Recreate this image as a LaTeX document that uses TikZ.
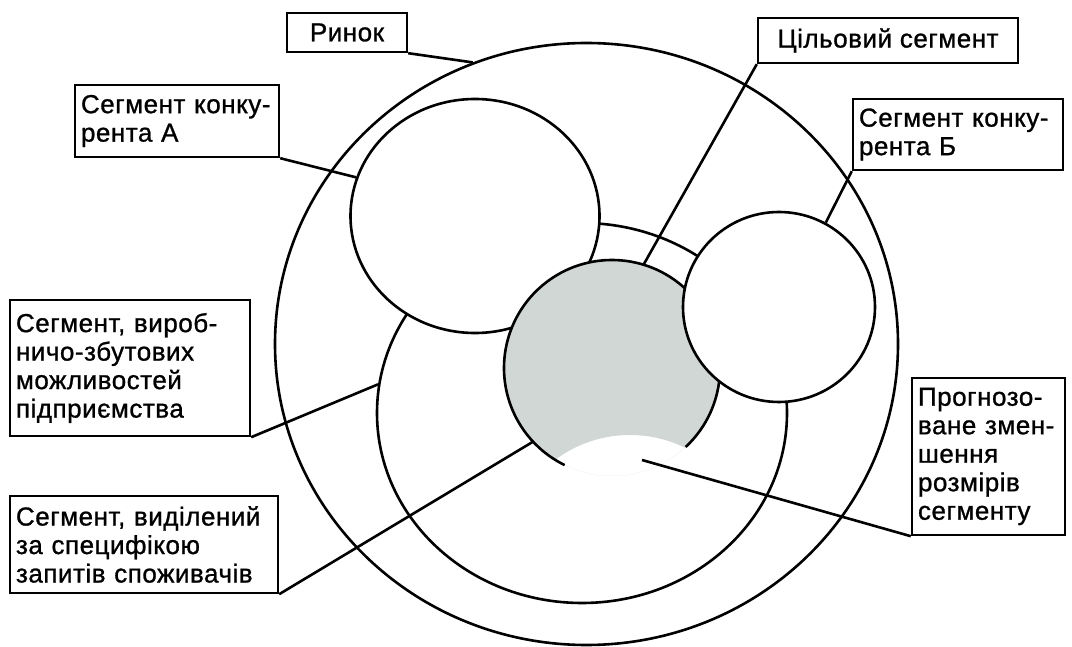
\documentclass[tikz,border=0pt]{standalone}
\usepackage{fontspec}
\setmainfont{Liberation Sans}
\newfontfamily\segfont[LetterSpace=2,FakeBold=1]{Liberation Sans}
\usetikzlibrary{shapes.geometric}
\definecolor{targetgrey}{RGB}{209,215,213}
\tikzset{
  segbox/.style={draw, line width=2.4pt, align=left, inner xsep=6pt, inner ysep=0pt,
    font=\segfont\fontsize{26}{28.5}\selectfont},
  segoval/.style={draw, ellipse, line width=2.6pt, inner sep=0pt},
  leader/.style={line width=2.6pt}
}

\begin{document}
\begin{tikzpicture}[x=1pt,y=1pt]
  \useasboundingbox (0,0) rectangle (1072,646);
  % market and the segments inside it
  \node[segoval, minimum width=623pt, minimum height=602pt] (market) at (586.5,302) {};
  \node[segoval, minimum width=410pt, minimum height=380pt] (prodov) at (582,233) {};
  \node[segoval, fill=white, minimum width=249pt, minimum height=234pt] (compA) at (475,430) {};
  % target segment, bottom part cut away
  \node[circle, minimum size=216pt, inner sep=0pt] (tgt) at (612,278) {};
  \begin{scope}
    \clip (tgt.center) circle[radius=108];
    \fill[targetgrey, even odd rule] (tgt.center) circle[radius=108] (630,86) circle[radius=125];
  \end{scope}
  \draw[leader] (tgt.center) ++(-47:108) arc[start angle=-47, end angle=244, radius=108];
  \node[segoval, fill=white, minimum width=192pt, minimum height=190pt] (compB) at (779,339) {};
  % labels
  \node[segbox, align=center, minimum width=120pt, minimum height=39pt] (rinok) at (347,613.5) {Ринок};
  \node[segbox, text width=192pt, minimum height=72pt] (segA) at (177,525) {Сегмент конку-\\рента А};
  \node[segbox, align=center, minimum width=260pt, minimum height=45pt] (target) at (888,605.5) {Цільовий сегмент};
  \node[segbox, text width=198pt, minimum height=71pt] (segB) at (958,511.5) {Сегмент конку-\\рента Б};
  \node[segbox, text width=228pt, minimum height=136pt] (prod) at (130,278) {Сегмент, вироб-\\ничо-збутових\\можливостей\\підприємства};
  \node[segbox, text width=256pt, minimum height=97pt] (cons) at (144,101.5) {Сегмент, виділений\\за специфікою\\запитів споживачів};
  \node[segbox, text width=141pt, minimum height=157pt] (forecast) at (988.5,189.5) {Прогнозо-\\ване змен-\\шення\\розмірів\\сегменту};
  \coordinate (shrink) at (642,186);
  % leaders
  \draw[leader] (rinok.south east) -- (market.112.4);
  \draw[leader] (segA.south east) -- (compA.162);
  \draw[leader] (target.south west) -- (tgt.73.7);
  \draw[leader] (segB.south west) -- (compB.61.2);
  \draw[leader] (prod.south east) -- (prodov.172.8);
  \draw[leader] (cons.south east) -- (tgt.223.5);
  \draw[leader] (forecast.south west) -- (shrink);
\end{tikzpicture}
\end{document}
